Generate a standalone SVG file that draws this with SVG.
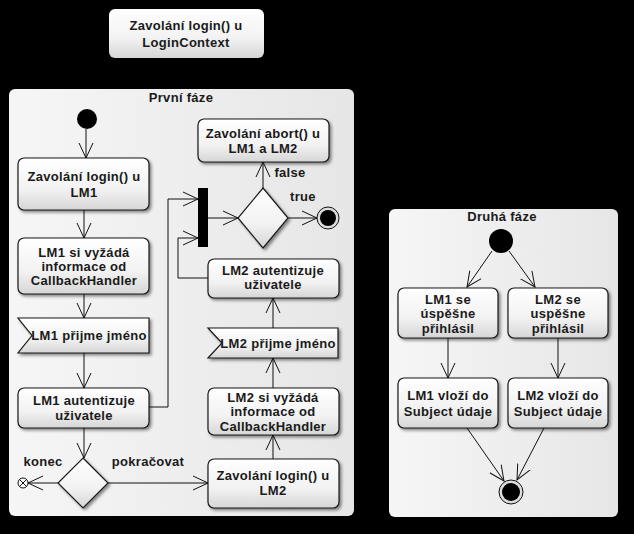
<svg xmlns="http://www.w3.org/2000/svg" width="634" height="534" viewBox="0 0 634 534">
<defs>
<linearGradient id="ng" x1="0" y1="0" x2="0" y2="1">
<stop offset="0" stop-color="#ffffff"/>
<stop offset="0.6" stop-color="#f2f2f2"/>
<stop offset="1" stop-color="#d6d6d6"/>
</linearGradient>
<linearGradient id="cg" x1="0" y1="0" x2="1" y2="0">
<stop offset="0" stop-color="#f6f6f6"/>
<stop offset="1" stop-color="#e6e6e6"/>
</linearGradient>
<filter id="sh" x="-10%" y="-10%" width="130%" height="140%">
<feDropShadow dx="2" dy="2" stdDeviation="1.5" flood-color="#000" flood-opacity="0.45"/>
</filter>
<marker id="arr" viewBox="0 0 16 16" refX="15" refY="8" markerWidth="16" markerHeight="16" orient="auto" markerUnits="userSpaceOnUse">
<path d="M0,1 L15,8 L0,15" fill="none" stroke="#111" stroke-width="1"/>
</marker>
</defs>
<style>
.node{fill:url(#ng);stroke:#1a1a1a;stroke-width:1.2;filter:url(#sh)}
.cont{fill:url(#cg);stroke:none}
.t{font-family:"Liberation Sans",Arial,sans-serif;font-size:13px;font-weight:bold;fill:#1a1a1a;text-anchor:middle;letter-spacing:0.3px}
.c{fill:none;stroke:#111;stroke-width:1;marker-end:url(#arr)}
</style>
<rect x="0" y="0" width="634" height="534" fill="#000"/>

<g id="loginContext">
<rect x="109" y="9" width="155" height="49" rx="6" fill="url(#ng)"/>
<text class="t" x="186" y="30">Zavolání login() u</text>
<text class="t" x="186" y="47">LoginContext</text>
</g>

<g id="phase1">
<rect class="cont" x="9" y="89" width="345" height="427" rx="6"/>
<text class="t" x="181" y="102">První fáze</text>
</g>

<g id="phase2">
<rect class="cont" x="389" y="209" width="229" height="308" rx="6"/>
<text class="t" x="502" y="221">Druhá fáze</text>
</g>

<g id="start1"><circle cx="87" cy="119" r="10" fill="#000"/></g>

<g id="loginLM1">
<rect class="node" x="18" y="158" width="131" height="52" rx="6"/>
<text class="t" x="84" y="181">Zavolání login() u</text>
<text class="t" x="84" y="197">LM1</text>
</g>

<g id="lm1Request">
<rect class="node" x="18" y="238" width="131" height="56" rx="6"/>
<text class="t" x="84" y="257">LM1 si vyžádá</text>
<text class="t" x="84" y="271">informace od</text>
<text class="t" x="84" y="285">CallbackHandler</text>
</g>

<g id="lm1Receive">
<path class="node" d="M18,318 H149 V353 H18 L32,335.5 Z"/>
<text class="t" x="89" y="340">LM1 přijme jméno</text>
</g>

<g id="lm1Auth">
<rect class="node" x="18" y="388" width="131" height="40" rx="6"/>
<text class="t" x="84" y="405">LM1 autentizuje</text>
<text class="t" x="84" y="420">uživatele</text>
</g>

<g id="decision1">
<path class="node" d="M83,458 L108,483 L83,508 L58,483 Z"/>
</g>

<g id="flowFinal">
<circle cx="23" cy="483" r="5" fill="#fff" stroke="#111" stroke-width="1"/>
<path d="M19.5,479.5 L26.5,486.5 M26.5,479.5 L19.5,486.5" stroke="#111" stroke-width="1"/>
</g>

<g id="loginLM2">
<rect class="node" x="208" y="459" width="131" height="49" rx="6"/>
<text class="t" x="273" y="480">Zavolání login() u</text>
<text class="t" x="273" y="495">LM2</text>
</g>

<g id="lm2Request">
<rect class="node" x="208" y="388" width="131" height="47" rx="6"/>
<text class="t" x="273" y="402">LM2 si vyžádá</text>
<text class="t" x="273" y="416">informace od</text>
<text class="t" x="273" y="431">CallbackHandler</text>
</g>

<g id="lm2Receive">
<path class="node" d="M208,328 H338 V358 H208 L222,343 Z"/>
<text class="t" x="278" y="348">LM2 přijme jméno</text>
</g>

<g id="lm2Auth">
<rect class="node" x="208" y="259" width="131" height="39" rx="6"/>
<text class="t" x="273" y="275">LM2 autentizuje</text>
<text class="t" x="273" y="289">uživatele</text>
</g>

<g id="join"><rect x="198" y="188" width="10" height="59" fill="#000"/></g>

<g id="decision2">
<path class="node" d="M263,188 L288,218 L263,248 L238,218 Z"/>
</g>

<g id="abort">
<rect class="node" x="198" y="119" width="131" height="43" rx="6"/>
<text class="t" x="263" y="138">Zavolání abort() u</text>
<text class="t" x="263" y="153">LM1 a LM2</text>
</g>

<g id="final1">
<circle cx="328" cy="218" r="11" fill="#ddd" stroke="#111" stroke-width="1"/>
<circle cx="328" cy="218" r="8" fill="#000"/>
</g>

<g id="start2"><circle cx="501" cy="241" r="12" fill="#000"/></g>

<g id="lm1Success">
<rect class="node" x="398" y="288" width="100" height="50" rx="6"/>
<text class="t" x="448" y="304">LM1 se</text>
<text class="t" x="448" y="318">úspěšne</text>
<text class="t" x="448" y="333">přihlásil</text>
</g>

<g id="lm2Success">
<rect class="node" x="508" y="288" width="100" height="50" rx="6"/>
<text class="t" x="558" y="304">LM2 se</text>
<text class="t" x="558" y="318">uspěšne</text>
<text class="t" x="558" y="333">přihlásil</text>
</g>

<g id="lm1Store">
<rect class="node" x="398" y="378" width="100" height="50" rx="6"/>
<text class="t" x="448" y="400">LM1 vloží do</text>
<text class="t" x="448" y="416">Subject údaje</text>
</g>

<g id="lm2Store">
<rect class="node" x="508" y="378" width="100" height="50" rx="6"/>
<text class="t" x="558" y="400">LM2 vloží do</text>
<text class="t" x="558" y="416">Subject údaje</text>
</g>

<g id="final2">
<circle cx="511" cy="492" r="12" fill="#ddd" stroke="#111" stroke-width="1"/>
<circle cx="511" cy="492" r="9" fill="#000"/>
</g>

<g id="connectors">
<path class="c" d="M86,129 V158"/>
<path class="c" d="M84,210 V238"/>
<path class="c" d="M84,294 V318"/>
<path class="c" d="M84,353 V388"/>
<path class="c" d="M149,407 H168 V199 H198"/>
<path class="c" d="M208,278 H178 V238 H198"/>
<path class="c" d="M208,218 H238"/>
<path class="c" d="M263,188 V162"/>
<path class="c" d="M288,218 H317"/>
<path class="c" d="M84,428 V458"/>
<path class="c" d="M58,483 H28"/>
<path class="c" d="M108,483 H208"/>
<path class="c" d="M273,459 V435"/>
<path class="c" d="M273,388 V358"/>
<path class="c" d="M273,328 V298"/>
<path class="c" d="M492,251 L467,287"/>
<path class="c" d="M509,251 L535,287"/>
<path class="c" d="M448,338 V378"/>
<path class="c" d="M558,338 V378"/>
<path class="c" d="M467,428 L504,481"/>
<path class="c" d="M544,428 L517,480"/>
<text class="t" x="290" y="177">false</text>
<text class="t" x="303" y="201">true</text>
<text class="t" x="43" y="466">konec</text>
<text class="t" x="148" y="466">pokračovat</text>
</g>
</svg>
